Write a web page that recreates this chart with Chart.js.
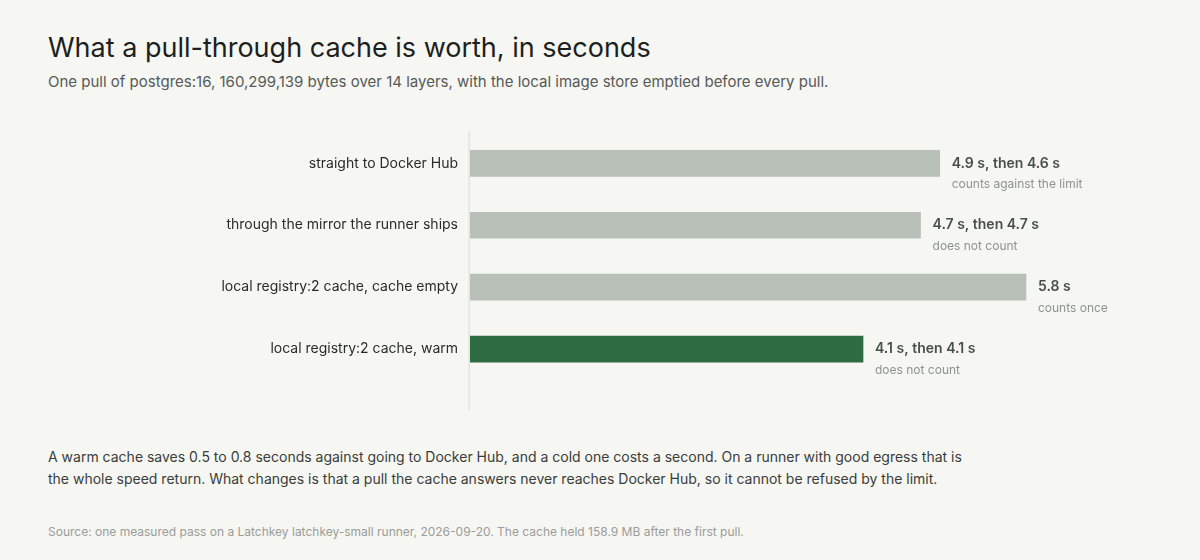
<!DOCTYPE html>
<html lang="en">
<head>
    <meta charset="UTF-8">
    <title>What a pull-through cache is worth</title>
    <script src="https://cdn.jsdelivr.net/npm/chart.js"></script>
    <style>
        body {
            margin: 0;
            width: 1200px;
            height: 560px;
            background: #f6f6f2;
            font-family: Inter, 'Noto Sans', sans-serif;
            position: relative;
            overflow: hidden;
        }

        h1 {
            position: absolute;
            left: 48px;
            top: 31px;
            margin: 0;
            font-size: 27px;
            line-height: 34px;
            font-weight: 400;
            color: #1d1f1e;
        }

        .subtitle {
            position: absolute;
            left: 48px;
            top: 71px;
            margin: 0;
            font-size: 15px;
            line-height: 22px;
            color: #555a57;
        }

        .chart-box {
            position: absolute;
            left: 0;
            top: 112px;
            width: 1200px;
            height: 300px;
        }

        .note {
            position: absolute;
            left: 48px;
            top: 446px;
            width: 930px;
            margin: 0;
            font-size: 14px;
            line-height: 22px;
            color: #3a3d3b;
        }

        .source {
            position: absolute;
            left: 48px;
            top: 524px;
            margin: 0;
            font-size: 12px;
            line-height: 16px;
            color: #9a9d9a;
        }
    </style>
</head>
<body>
    <h1>What a pull-through cache is worth, in seconds</h1>
    <p class="subtitle">One pull of postgres:16, 160,299,139 bytes over 14 layers, with the local image store emptied before every pull.</p>
    <div class="chart-box">
        <canvas id="pullChart"></canvas>
    </div>
    <p class="note">A warm cache saves 0.5 to 0.8 seconds against going to Docker Hub, and a cold one costs a second. On a runner with good egress that is the whole speed return. What changes is that a pull the cache answers never reaches Docker Hub, so it cannot be refused by the limit.</p>
    <p class="source">Source: one measured pass on a Latchkey latchkey-small runner, 2026-09-20. The cache held 158.9 MB after the first pull.</p>

    <script>
        // data
        const routes = [
            'straight to Docker Hub',
            'through the mirror the runner ships',
            'local registry:2 cache, cache empty',
            'local registry:2 cache, warm'
        ];
        const firstPull = [4.9, 4.7, 5.8, 4.1];
        const secondPull = [4.6, 4.7, null, 4.1];
        const limitNotes = ['counts against the limit', 'does not count', 'counts once', 'does not count'];
        const barColors = ['#b9c0b8', '#b9c0b8', '#b9c0b8', '#2e6b40'];

        const FONT = "Inter, 'Noto Sans', sans-serif";

        // axis line that runs a bit past the bars
        const axisLine = {
            id: 'axisLine',
            beforeDatasetsDraw(chart) {
                const { ctx, chartArea } = chart;
                ctx.save();
                ctx.strokeStyle = '#e3e4df';
                ctx.lineWidth = 1.5;
                ctx.beginPath();
                ctx.moveTo(chartArea.left - 0.75, chartArea.top - 2);
                ctx.lineTo(chartArea.left - 0.75, chartArea.bottom + 30);
                ctx.stroke();
                ctx.restore();
            }
        };

        // value + note next to each bar end
        const barLabels = {
            id: 'barLabels',
            afterDatasetsDraw(chart) {
                const { ctx } = chart;
                const meta = chart.getDatasetMeta(0);
                ctx.save();
                ctx.textAlign = 'left';
                ctx.textBaseline = 'middle';
                meta.data.forEach((bar, i) => {
                    const a = firstPull[i].toFixed(1) + ' s';
                    const text = secondPull[i] == null ? a : a + ', then ' + secondPull[i].toFixed(1) + ' s';
                    ctx.font = '600 14px ' + FONT;
                    ctx.fillStyle = '#4a4f4c';
                    ctx.fillText(text, bar.x + 12, bar.y);
                    ctx.font = '400 12px ' + FONT;
                    ctx.fillStyle = '#8f938f';
                    ctx.fillText(limitNotes[i], bar.x + 12, bar.y + 21);
                });
                ctx.restore();
            }
        };

        new Chart(document.getElementById('pullChart'), {
            type: 'bar',
            data: {
                labels: routes,
                datasets: [{
                    data: firstPull,
                    backgroundColor: barColors,
                    borderWidth: 0,
                    barThickness: 26
                }]
            },
            options: {
                indexAxis: 'y',
                responsive: true,
                maintainAspectRatio: false,
                animation: false,
                layout: {
                    padding: { top: 0, bottom: 32, right: 59, left: 0 }
                },
                plugins: {
                    legend: { display: false },
                    tooltip: { enabled: false }
                },
                scales: {
                    x: {
                        display: false,
                        min: 0,
                        max: 7
                    },
                    y: {
                        afterFit(scale) { scale.width = 470; },
                        grid: { display: false, drawTicks: false },
                        border: { display: false },
                        ticks: {
                            padding: 12,
                            color: '#2a2c2b',
                            font: { family: FONT, size: 14 }
                        }
                    }
                }
            },
            plugins: [axisLine, barLabels]
        });
    </script>
</body>
</html>
